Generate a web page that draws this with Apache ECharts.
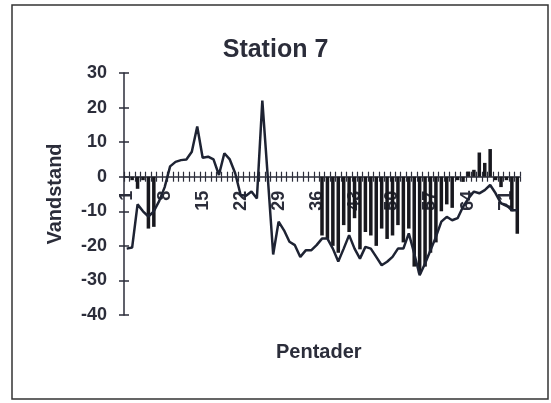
<!DOCTYPE html>
<html>
<head>
<meta charset="utf-8">
<script src="https://cdn.jsdelivr.net/npm/echarts@6/dist/echarts.min.js"></script>
<style>
  html, body { margin: 0; padding: 0; background: #fff; }
  #chart { width: 551px; height: 403px; }
</style>
</head>
<body>
<div id="chart"></div>
<script>
// pentads 1..73
const pentads = []
for (let i = 1; i <= 73; i++) pentads.push(String(i))

// water level (line)
const levelLine = [
  -20.8, -20.5, -8, -10, -11.5, -10, -7, -3, 3, 4.3,
  4.8, 5, 7.2, 14.5, 5.5, 5.8, 5, 0.5, 6.8, 5,
  1, -5.3, -5.5, -4.3, -6.3, 22, 0, -22.5, -13, -15.5,
  -18.8, -19.8, -23.2, -21.3, -21.3, -19.8, -17.9, -17.9, -20.8, -24.5,
  -20.8, -16.9, -20.8, -23.7, -20.3, -20.8, -23.2, -25.6, -24.6, -23.2,
  -20.8, -20.8, -16.4, -22.2, -28.5, -25.1, -21.3, -17.4, -13, -11.6,
  -12.6, -12, -8.7, -6.3, -4.3, -4.8, -3.9, -2.4, -4.8, -7.7,
  -8.2, -9.7, -9.7
]

// deviation (bars)
const levelBars = [
  0, -1, -3.5, -1, -15, -14.5, 0, 0, 0, 0,
  0, 0, 0, 0, 0, 0, 0, 0, 0, 0,
  0, 0, 0, 0, 0, 0, 0, 0, 0, 0,
  0, 0, 0, 0, 0, 0, -17, -18, -20, -22,
  -14, -16, -12, -21, -16, -17, -20, -15, -18, -17,
  -14, -19, -15, -26, -28, -26, -22, -19, -10, -8,
  -9, -1, -1.5, 1.5, 2, 7, 4, 8, -1, -3,
  -1, -10, -16.5
]

const font = "'Liberation Sans', Arial, sans-serif"
const ink = '#2b2d3a'

// grid box, the x axis is shifted up from the bottom to the zero line
const gridTop = 73
const gridBottom = 88
const plotH = 403 - gridTop - gridBottom
const zeroShift = -(plotH * 40 / 70)

const chart = echarts.init(document.getElementById('chart'))

const yBase = {
  type: 'value',
  min: -40,
  max: 30,
  interval: 10,
  position: 'left',
  splitLine: { show: false },
  axisLine: { show: true, lineStyle: { color: ink, width: 1.5 } },
}

chart.setOption({
  animation: false,
  backgroundColor: '#fff',
  title: {
    text: 'Station 7',
    left: 'center',
    top: 33,
    textStyle: { fontFamily: font, fontWeight: 'bold', fontSize: 25, color: ink }
  },
  graphic: [{
    type: 'rect',
    shape: { x: 12, y: 5, width: 536, height: 394 },
    style: { fill: 'none', stroke: '#333', lineWidth: 1.5 }
  }, {
    type: 'text',
    left: 322 - 46,
    top: 342,
    style: { text: 'Pentader', font: 'bold 20px ' + font, fill: ink }
  }],
  grid: { left: 124, right: 31, top: gridTop, bottom: gridBottom, containLabel: false, outerBoundsMode: 'none' },
  xAxis: [{
    type: 'category',
    data: pentads,
    offset: zeroShift,
    axisLine: { show: true, onZero: false, lineStyle: { color: ink, width: 1.5 } },
    axisTick: { show: true, interval: 0, length: 5, lineStyle: { color: ink, width: 1.2 } },
    axisLabel: {
      interval: 6,
      rotate: 90,
      margin: 14,
      fontFamily: font,
      fontWeight: 'bold',
      fontSize: 18,
      color: ink
    }
  }, {
    type: 'category',
    data: pentads,
    position: 'bottom',
    offset: zeroShift,
    axisLine: { show: false, onZero: false },
    axisTick: { show: true, interval: 0, inside: true, length: 5, lineStyle: { color: ink, width: 1.2 } },
    axisLabel: { show: false }
  }],
  yAxis: [Object.assign({}, yBase, {
    name: 'Vandstand',
    nameLocation: 'middle',
    nameGap: 59,
    nameTextStyle: { fontFamily: font, fontWeight: 'bold', fontSize: 20, color: ink },
    axisTick: { show: true, length: 5, lineStyle: { color: ink, width: 1.5 } },
    axisLabel: { margin: 17, fontFamily: font, fontWeight: 'bold', fontSize: 18, color: ink }
  }), Object.assign({}, yBase, {
    axisLine: { show: false },
    axisTick: { show: true, inside: true, length: 5, lineStyle: { color: ink, width: 1.5 } },
    axisLabel: { show: false }
  })],
  series: [{
    type: 'bar',
    data: levelBars,
    barWidth: '65%',
    itemStyle: { color: '#18181e' }
  }, {
    type: 'line',
    data: levelLine,
    symbol: 'none',
    lineStyle: { color: '#1e2333', width: 2.5 }
  }]
})
</script>
</body>
</html>
